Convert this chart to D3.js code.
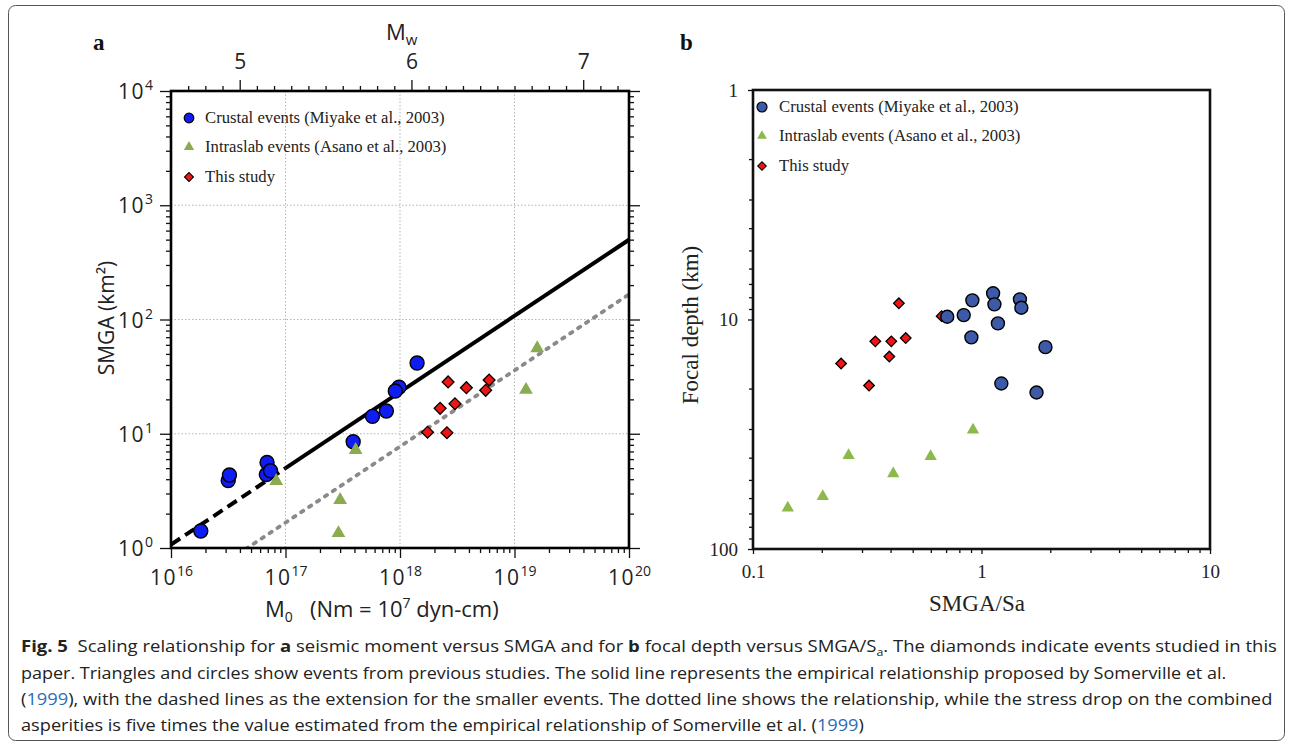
<!DOCTYPE html>
<html><head><meta charset="utf-8">
<script src="https://cdn.jsdelivr.net/npm/d3@7"></script>
<style>body{margin:0;background:#fff}svg{display:block}</style>
</head><body>
<svg id="c" width="1292" height="746"></svg>
<script>
// ---------- Panel a data (M0 in N·m, SMGA in km²) ----------
const crustalM0   = [1.82e16, 3.16e16, 3.24e16, 6.9e16, 6.8e16, 7.4e16, 3.9e17, 5.75e17, 7.6e17, 9.8e17, 9.1e17, 1.41e18];
const crustalSMGA = [1.41, 3.9, 4.35, 5.6, 4.4, 4.75, 8.5, 14.2, 15.8, 25.5, 23.7, 41.6];
const intraslabM0   = [8.3e16, 4.1e17, 3.0e17, 2.9e17, 1.26e19, 1.58e19];
const intraslabSMGA = [3.86, 7.2, 2.63, 1.35, 24.2, 56];
const studyM0   = [1.74e18, 2.57e18, 2.24e18, 3.02e18, 2.63e18, 3.8e18, 5.6e18, 6.0e18];
const studySMGA = [10.3, 10.2, 16.7, 18.3, 28.4, 25.3, 24.0, 29.5];
const solidLineM0  = [1e17, 1e20];   const solidLineSMGA  = [5.0, 499];
const dashedLineM0 = [1e16, 1e17];   const dashedLineSMGA = [1.07, 5.0];
const dottedLineM0 = [4.5e16, 1e20]; const dottedLineSMGA = [0.98, 166];

// ---------- Panel b data (SMGA/Sa, focal depth km) ----------
const crustalRatio = [0.708, 0.836, 0.912, 1.124, 1.139, 1.473, 1.494, 1.18, 0.903, 1.905, 1.221, 1.741];
const crustalDepth = [9.73, 9.57, 8.25, 7.69, 8.59, 8.17, 8.89, 10.4, 11.96, 13.2, 19.0, 20.8];
const intraslabRatio = [0.142, 0.202, 0.262, 0.411, 0.599, 0.918];
const intraslabDepth = [66.2, 59, 39.1, 47, 39.5, 30.3];
const studyRatio = [0.435, 0.669, 0.343, 0.403, 0.466, 0.243, 0.395, 0.322];
const studyDepth = [8.5, 9.67, 12.45, 12.45, 12.04, 15.56, 14.5, 19.4];

// ---------- Ticks / labels ----------
const m0Ticks = [1e16, 1e17, 1e18, 1e19, 1e20];
const m0TickExp = ["16", "17", "18", "19", "20"];
const smgaTicks = [1, 10, 100, 1000, 10000];
const smgaTickExp = ["0", "1", "2", "3", "4"];
const mwTicks = [5, 6, 7];
const mwMinorTicks = [4.7, 4.8, 4.9, 5.1, 5.2, 5.3, 5.4, 5.5, 5.6, 5.7, 5.8, 5.9, 6.1, 6.2, 6.3, 6.4, 6.5, 6.6, 6.7, 6.8, 6.9, 7.1, 7.2];
const ratioTicks = [0.1, 1, 10];
const ratioTickLabels = ["0.1", "1", "10"];
const depthTicks = [1, 10, 100];
const depthTickLabels = ["1", "10", "100"];
const legendLabels = ["Crustal events (Miyake et al., 2003)", "Intraslab events (Asano et al., 2003)", "This study"];

const svg = d3.select("#c");
const SANS = "'Open Sans', 'Noto Sans', sans-serif";
const SERIF = "'Liberation Serif', 'Times New Roman', serif";

function logMinors(lo, hi) {
  const out = [];
  for (let e = lo; e < hi; e++) for (let k = 2; k <= 9; k++) out.push(k * Math.pow(10, e));
  return out;
}
function styleAxis(g) {
  g.select(".domain").remove();
  g.selectAll(".tick line").attr("stroke", "#111").attr("stroke-width", 1.3);
}
const colCrustalA = "#0f1cf2", colTriA = "#8aab4f", colRed = "#f01414";
const colCrustalB = "#3d5aa8", colTriB = "#8cba4a";

// outer rounded frame
svg.append("rect").attr("x", 8.5).attr("y", 5.5).attr("width", 1276).attr("height", 735)
  .attr("rx", 7).attr("fill", "none").attr("stroke", "#555").attr("stroke-width", 1);

// ================= PANEL A =================
const A = {l: 171, r: 629, t: 91, b: 548};
const xA = d3.scaleLog().domain([1e16, 1e20]).range([A.l, A.r]);
const yA = d3.scaleLog().domain([1, 1e4]).range([A.b, A.t]);
const mwA = d3.scaleLinear().domain([(2 / 3) * (16 - 9.1), (2 / 3) * (20 - 9.1)]).range([A.l, A.r]);
const gA = svg.append("g");

// grid
gA.selectAll("line.gx").data(m0Ticks.slice(1, -1)).join("line")
  .attr("x1", d => xA(d)).attr("x2", d => xA(d)).attr("y1", A.t).attr("y2", A.b)
  .attr("stroke", "#b5b5b5").attr("stroke-width", 1).attr("stroke-dasharray", "1.5,2");
gA.selectAll("line.gy").data(smgaTicks.slice(1, -1)).join("line")
  .attr("y1", d => yA(d)).attr("y2", d => yA(d)).attr("x1", A.l).attr("x2", A.r)
  .attr("stroke", "#b5b5b5").attr("stroke-width", 1).attr("stroke-dasharray", "1.5,2");

svg.append("clipPath").attr("id", "clipA").append("rect")
  .attr("x", A.l).attr("y", A.t).attr("width", A.r - A.l).attr("height", A.b - A.t);
const lineA = d3.line().x(d => xA(d[0])).y(d => yA(d[1]));
const linesG = gA.append("g").attr("clip-path", "url(#clipA)");
linesG.append("path").datum(d3.zip(dottedLineM0, dottedLineSMGA)).attr("d", lineA)
  .attr("fill", "none").attr("stroke", "#8a8a8a").attr("stroke-width", 3.8)
  .attr("stroke-linecap", "round").attr("stroke-dasharray", "2.5,7");
linesG.append("path").datum(d3.zip(dashedLineM0, dashedLineSMGA)).attr("d", lineA)
  .attr("fill", "none").attr("stroke", "#000").attr("stroke-width", 4).attr("stroke-dasharray", "11,6");
linesG.append("path").datum(d3.zip(solidLineM0, solidLineSMGA)).attr("d", lineA)
  .attr("fill", "none").attr("stroke", "#000").attr("stroke-width", 4);

// markers
gA.selectAll("circle.cr").data(d3.zip(crustalM0, crustalSMGA)).join("circle")
  .attr("cx", d => xA(d[0])).attr("cy", d => yA(d[1])).attr("r", 7)
  .attr("fill", colCrustalA).attr("stroke", "#000").attr("stroke-width", 1.4);
gA.selectAll("path.tri").data(d3.zip(intraslabM0, intraslabSMGA)).join("path")
  .attr("d", d3.symbol(d3.symbolTriangle, 82))
  .attr("transform", d => `translate(${xA(d[0])},${yA(d[1])})`).attr("fill", colTriA);
gA.selectAll("path.dia").data(d3.zip(studyM0, studySMGA)).join("path")
  .attr("d", d3.symbol(d3.symbolSquare, 70))
  .attr("transform", d => `translate(${xA(d[0])},${yA(d[1])}) rotate(45)`)
  .attr("fill", colRed).attr("stroke", "#000").attr("stroke-width", 1.3);

// axes
function expLabels(g, exps, base) {
  g.selectAll(".tick text").each(function (d, i) {
    const t = d3.select(this).text(null);
    t.append("tspan").text(base).attr("letter-spacing", "1.5px");
    t.append("tspan").text(exps[i]).attr("font-size", 14).attr("dy", -9);
  });
}
const axL = gA.append("g").attr("transform", `translate(${A.l},0)`)
  .call(d3.axisLeft(yA).tickValues(smgaTicks).tickSize(11).tickPadding(7));
styleAxis(axL);
expLabels(axL, smgaTickExp, "10");
axL.selectAll(".tick text").attr("font-family", SANS).attr("font-size", 21).attr("fill", "#222")
  .attr("dy", "0.36em");
styleAxis(gA.append("g").attr("transform", `translate(${A.l},0)`)
  .call(d3.axisLeft(yA).tickValues(logMinors(0, 4)).tickSize(5).tickFormat("")));
styleAxis(gA.append("g").attr("transform", `translate(${A.r},0)`)
  .call(d3.axisRight(yA).tickValues(smgaTicks).tickSize(11).tickFormat("")));
styleAxis(gA.append("g").attr("transform", `translate(${A.r},0)`)
  .call(d3.axisRight(yA).tickValues(logMinors(0, 4)).tickSize(5).tickFormat("")));

const axB = gA.append("g").attr("transform", `translate(0,${A.b})`)
  .call(d3.axisBottom(xA).tickValues(m0Ticks).tickSize(10));
styleAxis(axB);
expLabels(axB, m0TickExp, "10");
axB.selectAll(".tick text").attr("font-family", SANS).attr("font-size", 21).attr("fill", "#222")
  .attr("y", 37).attr("dy", 0);
styleAxis(gA.append("g").attr("transform", `translate(0,${A.b})`)
  .call(d3.axisBottom(xA).tickValues(logMinors(16, 20)).tickSize(5).tickFormat("")));

const axT = gA.append("g").attr("transform", `translate(0,${A.t})`)
  .call(d3.axisTop(mwA).tickValues(mwTicks).tickSize(11).tickFormat(d3.format("d")));
styleAxis(axT);
axT.selectAll(".tick text").attr("font-family", SANS).attr("font-size", 21).attr("fill", "#222")
  .attr("y", -22).attr("dy", 0);
styleAxis(gA.append("g").attr("transform", `translate(0,${A.t})`)
  .call(d3.axisTop(mwA).tickValues(mwMinorTicks).tickSize(5).tickFormat("")));

// box
gA.append("rect").attr("x", A.l).attr("y", A.t).attr("width", A.r - A.l).attr("height", A.b - A.t)
  .attr("fill", "none").attr("stroke", "#000").attr("stroke-width", 2.6);

// titles
const mwT = gA.append("text").attr("x", 386).attr("y", 40).attr("font-family", SANS)
  .attr("font-size", 22).attr("fill", "#222");
mwT.append("tspan").text("M");
mwT.append("tspan").text("w").attr("font-size", 15).attr("dy", 5);

gA.append("text").attr("transform", "translate(107,318) rotate(-90)").attr("text-anchor", "middle")
  .attr("dy", "0.35em").attr("font-family", SANS).attr("font-size", 21).attr("fill", "#222")
  .text("SMGA (km²)");

const m0T = gA.append("text").attr("x", 265).attr("y", 617).attr("font-family", SANS)
  .attr("font-size", 22).attr("fill", "#222").style("white-space", "pre");
m0T.append("tspan").text("M");
m0T.append("tspan").text("0").attr("font-size", 14).attr("dy", 5);
m0T.append("tspan").text("   (Nm = 10").attr("dy", -5);
m0T.append("tspan").text("7").attr("font-size", 14).attr("dy", -9);
m0T.append("tspan").text(" dyn-cm)").attr("dy", 9);

gA.append("text").attr("x", 93).attr("y", 50).attr("font-family", SERIF).attr("font-weight", "bold")
  .attr("font-size", 23).attr("fill", "#111").text("a");

// legend a
const legA = gA.append("g");
const legAY = [118, 147, 177];
legA.append("circle").attr("cx", 189).attr("cy", legAY[0]).attr("r", 4.8)
  .attr("fill", colCrustalA).attr("stroke", "#000").attr("stroke-width", 1.2);
legA.append("path").attr("d", d3.symbol(d3.symbolTriangle, 46)).attr("transform", `translate(189,${legAY[1]})`)
  .attr("fill", colTriA);
legA.append("path").attr("d", d3.symbol(d3.symbolSquare, 40)).attr("transform", `translate(189,${legAY[2]}) rotate(45)`)
  .attr("fill", colRed).attr("stroke", "#000").attr("stroke-width", 1.1);
legA.selectAll("text").data(legendLabels).join("text")
  .attr("x", 205).attr("y", (d, i) => legAY[i] + 5).attr("font-family", SERIF).attr("font-size", 16.7)
  .attr("fill", "#222").text(d => d);

// ================= PANEL B =================
const B = {l: 753, r: 1210, t: 90, b: 549};
const xB = d3.scaleLog().domain([0.1, 10]).range([B.l, B.r]);
const yB = d3.scaleLog().domain([1, 100]).range([B.t, B.b]);
const gB = svg.append("g");

gB.selectAll("path.tri").data(d3.zip(intraslabRatio, intraslabDepth)).join("path")
  .attr("d", d3.symbol(d3.symbolTriangle, 66))
  .attr("transform", d => `translate(${xB(d[0])},${yB(d[1])})`).attr("fill", colTriB);
gB.selectAll("path.dia").data(d3.zip(studyRatio, studyDepth)).join("path")
  .attr("d", d3.symbol(d3.symbolSquare, 56))
  .attr("transform", d => `translate(${xB(d[0])},${yB(d[1])}) rotate(45)`)
  .attr("fill", colRed).attr("stroke", "#000").attr("stroke-width", 1.3);
gB.selectAll("circle.cr").data(d3.zip(crustalRatio, crustalDepth)).join("circle")
  .attr("cx", d => xB(d[0])).attr("cy", d => yB(d[1])).attr("r", 6.5)
  .attr("fill", colCrustalB).attr("stroke", "#000").attr("stroke-width", 1.4);

const bL = gB.append("g").attr("transform", `translate(${B.l},0)`)
  .call(d3.axisLeft(yB).tickValues(depthTicks).tickSize(5).tickPadding(10).tickFormat((d, i) => depthTickLabels[i]));
styleAxis(bL);
bL.selectAll(".tick text").attr("font-family", SERIF).attr("font-size", 19).attr("fill", "#222").attr("dy", "0.32em");
styleAxis(gB.append("g").attr("transform", `translate(${B.l},0)`)
  .call(d3.axisLeft(yB).tickValues(logMinors(0, 2)).tickSize(4).tickFormat("")));
const bB = gB.append("g").attr("transform", `translate(0,${B.b})`)
  .call(d3.axisBottom(xB).tickValues(ratioTicks).tickSize(5).tickFormat((d, i) => ratioTickLabels[i]));
styleAxis(bB);
bB.selectAll(".tick text").attr("font-family", SERIF).attr("font-size", 19).attr("fill", "#222")
  .attr("y", 29).attr("dy", 0);
styleAxis(gB.append("g").attr("transform", `translate(0,${B.b})`)
  .call(d3.axisBottom(xB).tickValues(logMinors(-1, 1)).tickSize(4).tickFormat("")));

gB.append("rect").attr("x", B.l).attr("y", B.t).attr("width", B.r - B.l).attr("height", B.b - B.t)
  .attr("fill", "none").attr("stroke", "#111").attr("stroke-width", 2.6);

gB.append("text").attr("transform", "translate(690,325) rotate(-90)").attr("text-anchor", "middle")
  .attr("dy", "0.35em").attr("font-family", SERIF).attr("font-size", 23).attr("fill", "#222")
  .text("Focal depth (km)");
gB.append("text").attr("x", 977).attr("y", 611).attr("text-anchor", "middle")
  .attr("font-family", SERIF).attr("font-size", 23).attr("fill", "#222").text("SMGA/Sa");
gB.append("text").attr("x", 680).attr("y", 50).attr("font-family", SERIF).attr("font-weight", "bold")
  .attr("font-size", 23).attr("fill", "#111").text("b");

const legB = gB.append("g");
const legBY = [107, 136, 166];
legB.append("circle").attr("cx", 762).attr("cy", legBY[0]).attr("r", 5)
  .attr("fill", colCrustalB).attr("stroke", "#000").attr("stroke-width", 1.2);
legB.append("path").attr("d", d3.symbol(d3.symbolTriangle, 42)).attr("transform", `translate(762,${legBY[1]})`)
  .attr("fill", colTriB);
legB.append("path").attr("d", d3.symbol(d3.symbolSquare, 36)).attr("transform", `translate(762,${legBY[2]}) rotate(45)`)
  .attr("fill", colRed).attr("stroke", "#000").attr("stroke-width", 1.1);
legB.selectAll("text").data(legendLabels).join("text")
  .attr("x", 779).attr("y", (d, i) => legBY[i] + 5).attr("font-family", SERIF).attr("font-size", 16.7)
  .attr("fill", "#222").text(d => d);

// ================= CAPTION =================
const blue = "#2a6db5";
const captionLines = [
  {y: 652, w: 1257, segs: [
    {t: "Fig. 5", b: 1}, {t: "  Scaling relationship for "}, {t: "a", b: 1},
    {t: " seismic moment versus SMGA and for "}, {t: "b", b: 1},
    {t: " focal depth versus SMGA/S"}, {t: "a", sub: 1},
    {t: ". The diamonds indicate events studied in this", up: 1}]},
  {y: 679, w: 1206, segs: [
    {t: "paper. Triangles and circles show events from previous studies. The solid line represents the empirical relationship proposed by Somerville et al."}]},
  {y: 705, w: 1253, segs: [
    {t: "("}, {t: "1999", c: blue},
    {t: "), with the dashed lines as the extension for the smaller events. The dotted line shows the relationship, while the stress drop on the combined"}]},
  {y: 731, w: 843, segs: [
    {t: "asperities is five times the value estimated from the empirical relationship of Somerville et al. ("},
    {t: "1999", c: blue}, {t: ")"}]}
];
captionLines.forEach(L => {
  const t = svg.append("text").attr("x", 0).attr("y", 0).attr("font-family", SANS)
    .attr("font-size", 16.5).attr("fill", "#222").style("white-space", "pre");
  L.segs.forEach(s => {
    const ts = t.append("tspan").text(s.t);
    if (s.b) ts.attr("font-weight", "bold");
    if (s.c) ts.attr("fill", s.c);
    if (s.sub) ts.attr("font-size", 11).attr("dy", 4);
    if (s.up) ts.attr("dy", -4);
  });
  const w = t.node().getComputedTextLength();
  t.attr("transform", `translate(21,${L.y}) scale(${L.w / w},1)`);
});
</script>
</body></html>
